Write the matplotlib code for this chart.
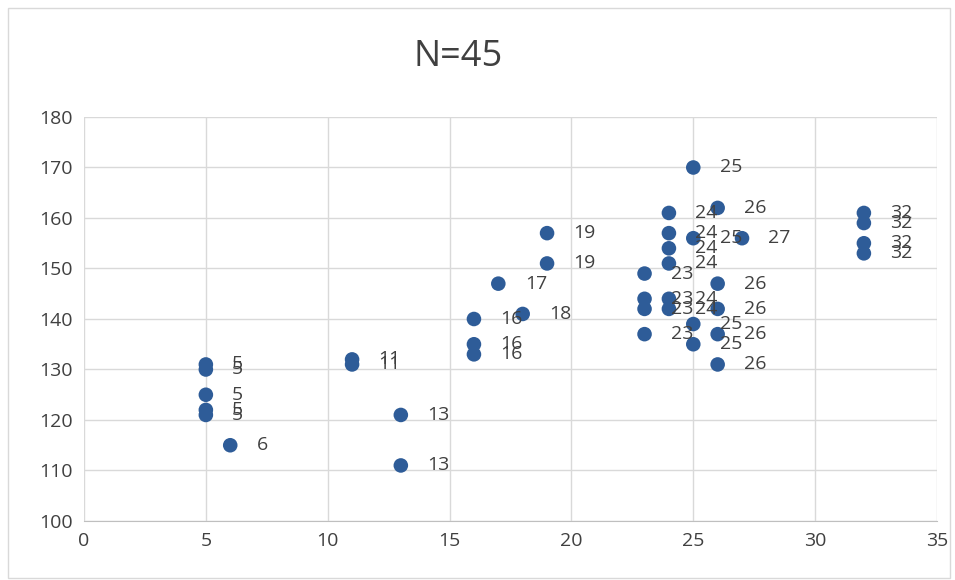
import matplotlib.pyplot as plt
from matplotlib.patches import Rectangle

x_vals = [5, 5, 5, 5, 5, 6, 11, 11, 13, 13, 16, 16, 16, 17, 18, 19, 19,
          23, 23, 23, 23, 24, 24, 24, 24, 24, 24, 25, 25, 25, 25,
          26, 26, 26, 26, 26, 27, 32, 32, 32, 32]
y_vals = [131, 130, 125, 122, 121, 115, 132, 131, 121, 111, 140, 135, 133, 147, 141, 157, 151,
          149, 144, 142, 137, 161, 157, 154, 151, 144, 142, 170, 156, 139, 135,
          162, 147, 142, 137, 131, 156, 161, 159, 155, 153]
title = "N=45"

plt.rcParams['font.family'] = ['Open Sans', 'DejaVu Sans']

fig = plt.figure(figsize=(9.55, 5.8), dpi=100)
ax = fig.add_axes([84 / 955, 1 - 521 / 580, (937 - 84) / 955, (521 - 117) / 580])

fig.patches.append(Rectangle((8 / 955, 1 - 578 / 580), 942 / 955, 570 / 580,
                             transform=fig.transFigure, fill=False,
                             edgecolor='#d9d9d9', linewidth=1))

ax.scatter(x_vals, y_vals, s=110, color='#2e5c98', zorder=3, edgecolors='none')
for x, y in zip(x_vals, y_vals):
    ax.annotate(str(x), (x, y), xytext=(19, 0), textcoords='offset points',
                fontsize=14, color='#404040', va='center', ha='left')

ax.set_xlim(0, 35)
ax.set_ylim(100, 180)
ax.set_xticks(range(0, 36, 5))
ax.set_yticks(range(100, 181, 10))
ax.grid(True, color='#d9d9d9', linewidth=1)
ax.set_axisbelow(True)
for s in ['top', 'right', 'left']:
    ax.spines[s].set_visible(False)
ax.spines['bottom'].set_color('#bfbfbf')
ax.tick_params(length=0, labelsize=14, colors='#404040', pad=8)

fig.text(458 / 955, 1 - 57 / 580, title, fontsize=26, color='#404040',
         ha='center', va='center')

fig.savefig('out.png', dpi=100)
